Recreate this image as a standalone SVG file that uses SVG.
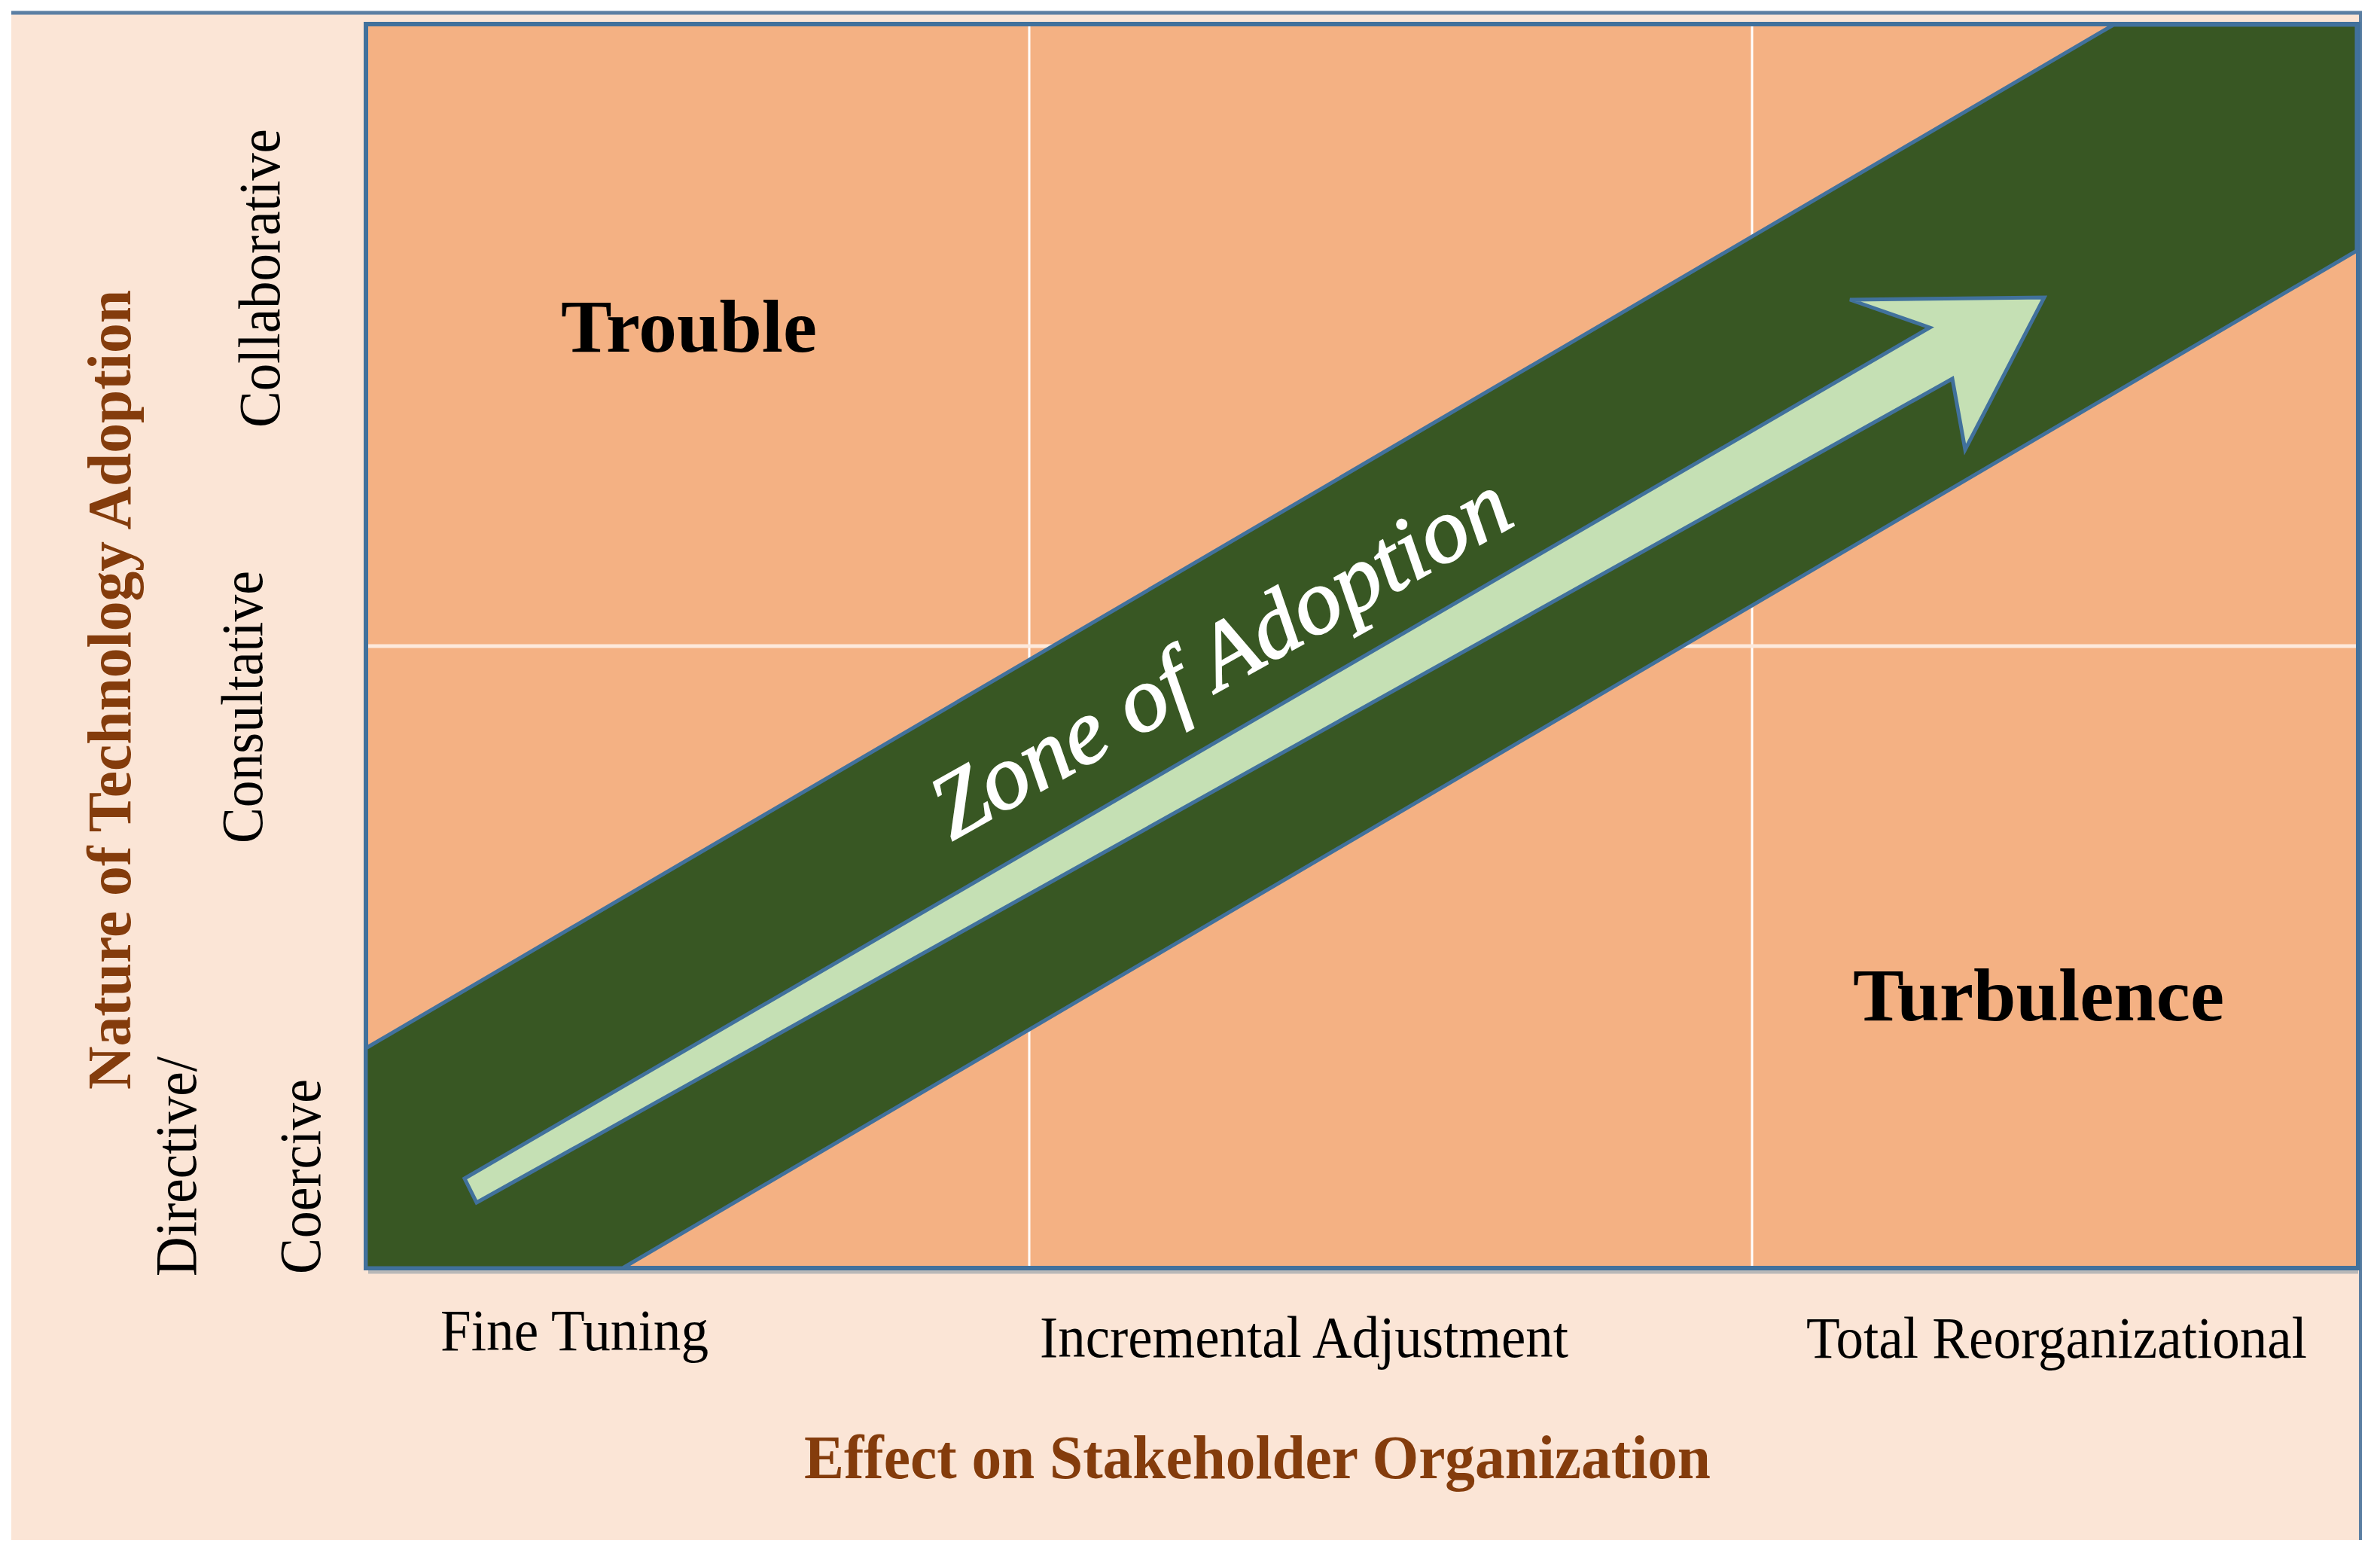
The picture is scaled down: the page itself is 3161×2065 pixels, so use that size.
<svg xmlns="http://www.w3.org/2000/svg" width="3161" height="2065" viewBox="0 0 3161 2065">
  <style>
    .lbl { font-family: "Liberation Serif", "Times New Roman", serif; font-size: 78px; fill: #000; }
    .axis { font-family: "Liberation Serif", "Times New Roman", serif; font-size: 82px; font-weight: bold; fill: #843c0c; }
    .zone { font-family: "Liberation Serif", "Times New Roman", serif; font-size: 100px; font-weight: bold; fill: #000; }
    .edge { stroke: #41719c; stroke-linejoin: miter; }
    .grid { stroke: #ffffff; fill: none; }
  </style>
  <rect x="0" y="0" width="3161" height="2065" fill="#ffffff"/>
  <g id="background">
    <rect x="15" y="17" width="3122" height="2028" fill="#fbe5d6"/>
    <line x1="15" y1="17" x2="3137" y2="17" stroke="#5b7fa3" stroke-width="5"/>
    <line x1="3135" y1="15" x2="3135" y2="2045" stroke="#5b7fa3" stroke-width="4"/>
  </g>
  <g id="plot">
    <line x1="489" y1="1689" x2="3132" y2="1689" stroke="#b8b8b8" stroke-width="5"/>
    <rect x="486" y="32" width="2646" height="1652" fill="#f4b183" class="edge" stroke-width="6"/>
    <line class="grid" x1="1367" y1="35" x2="1367" y2="1681" stroke-width="3"/>
    <line class="grid" x1="2327" y1="35" x2="2327" y2="1681" stroke-width="3"/>
    <line x1="489" y1="858" x2="3129" y2="858" stroke="#fde9dc" stroke-width="5"/>
  </g>
  <g id="zone-band">
    <polygon points="486,1392 2807,33 3130,33 3130,333 827,1684 486,1684" fill="#385723" class="edge" stroke-width="5"/>
    <text class="lbl" transform="translate(1264,1117) rotate(-29.3)" style="font-size:122px;font-style:italic;fill:#ffffff;stroke:#ffffff;stroke-width:2" textLength="862" lengthAdjust="spacingAndGlyphs">Zone of Adoption</text>
  </g>
  <g id="connectors">
    <polygon points="617,1565 2563,435 2457,398 2715,395 2610,597 2593,503 633,1597" fill="#c5e0b4" class="edge" stroke-width="5"/>
  </g>
  <g id="trouble">
    <text class="zone" x="745" y="467" textLength="340" lengthAdjust="spacingAndGlyphs">Trouble</text>
  </g>
  <g id="turbulence">
    <text class="zone" x="2461" y="1355" textLength="493" lengthAdjust="spacingAndGlyphs">Turbulence</text>
  </g>
  <g id="y-axis">
    <text class="axis" transform="translate(173,1447) rotate(-90)" textLength="1062" lengthAdjust="spacingAndGlyphs">Nature of Technology Adoption</text>
    <text class="lbl" transform="translate(260,1695) rotate(-90)" textLength="292" lengthAdjust="spacingAndGlyphs">Directive/</text>
    <text class="lbl" transform="translate(425,1692) rotate(-90)" textLength="259" lengthAdjust="spacingAndGlyphs">Coercive</text>
    <text class="lbl" transform="translate(348,1120) rotate(-90)" textLength="362" lengthAdjust="spacingAndGlyphs">Consultative</text>
    <text class="lbl" transform="translate(371,568) rotate(-90)" textLength="397" lengthAdjust="spacingAndGlyphs">Collaborative</text>
  </g>
  <g id="x-axis">
    <text class="lbl" x="585" y="1793" textLength="356" lengthAdjust="spacingAndGlyphs">Fine Tuning</text>
    <text class="lbl" x="1381" y="1802" textLength="702" lengthAdjust="spacingAndGlyphs">Incremental Adjustment</text>
    <text class="lbl" x="2399" y="1803" textLength="665" lengthAdjust="spacingAndGlyphs">Total Reorganizational</text>
    <text class="axis" x="1068" y="1963" textLength="1204" lengthAdjust="spacingAndGlyphs">Effect on Stakeholder Organization</text>
  </g>
</svg>
